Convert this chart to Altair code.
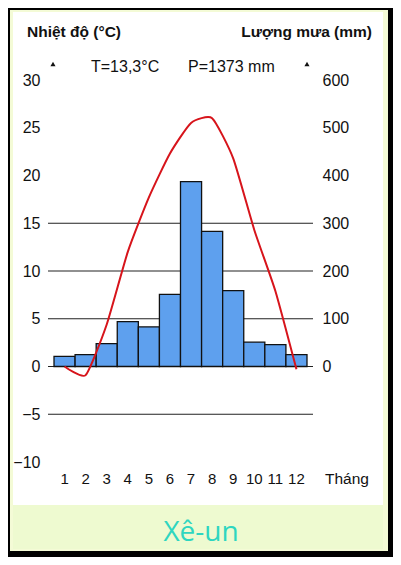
import altair as alt
import pandas as pd

months = list(range(1, 13))
rain = [21, 25, 48, 94, 83, 151, 387, 283, 159, 51, 46, 25]
temp = [0, -0.9, 4.4, 12, 17.7, 22.3, 25.5, 26, 21.8, 14.3, 7.9, -0.3]
temp_ticks = [-10, -5, 0, 5, 10, 15, 20, 25, 30]
rain_ticks = [0, 100, 200, 300, 400, 500, 600]
grid_vals = [-5, 0, 5, 10, 15]

W, H = 265, 382
FONT = "Liberation Sans"

df = pd.DataFrame({"month": months, "rain": rain, "temp": temp})
one = alt.Data(values=[{"k": 1}])

temp_scale = alt.Scale(domain=[-10, 30], nice=False, zero=False)
rain_scale = alt.Scale(domain=[-200, 600], nice=False, zero=False)
x_scale = alt.Scale(paddingInner=0, paddingOuter=0.285)


def rect(x, x2, y, y2, color):
    return alt.Chart(one).mark_rect(color=color).encode(
        x=alt.value(x), x2=alt.value(x2), y=alt.value(y), y2=alt.value(y2)
    )


pale = rect(-38, 340, -70, 471, "#f4fbd6")
white = rect(-35, 335, -68, 425, "#ffffff")
green = rect(-35, 335, 425, 469, "#eefad0")

grid = alt.Chart(pd.DataFrame({"v": grid_vals})).mark_rule(
    color="#222222", strokeWidth=1.2
).encode(
    y=alt.Y("v:Q", scale=temp_scale, axis=None),
    x=alt.value(0),
    x2=alt.value(W),
)

bars = alt.Chart(df).mark_bar(
    color="#5ea0ee", stroke="#111111", strokeWidth=1.3
).encode(
    x=alt.X(
        "month:O",
        scale=x_scale,
        axis=alt.Axis(
            title=None, labelAngle=0, labelFont=FONT, labelFontSize=15,
            labelColor="#111111", ticks=False, domain=False, labelPadding=9,
            zindex=2,
        ),
    ),
    y=alt.Y(
        "rain:Q",
        scale=rain_scale,
        axis=alt.Axis(
            orient="right", values=rain_ticks, title=None, grid=False,
            ticks=False, domain=False, labelFont=FONT, labelFontSize=16,
            labelColor="#111111", labelPadding=9, zindex=2,
        ),
    ),
    y2=alt.datum(0),
)

line = alt.Chart(df).mark_line(
    color="#d7141b", strokeWidth=2, interpolate="cardinal", tension=0.45
).encode(
    x=alt.X("month:O", scale=x_scale),
    y=alt.Y(
        "temp:Q",
        scale=temp_scale,
        axis=alt.Axis(
            orient="left", values=temp_ticks, title=None, grid=False,
            ticks=False, domain=False, labelFont=FONT, labelFontSize=16,
            labelColor="#111111", labelPadding=8, zindex=2,
        ),
    ),
)


def label(text, x, y, size=16, weight="normal", align="left", color="#111111", font=FONT):
    return alt.Chart(one).mark_text(
        text=text, fontSize=size, fontWeight=weight, align=align,
        baseline="middle", color=color, font=font,
    ).encode(x=alt.value(x), y=alt.value(y))


texts = [
    label("Nhiệt độ (°C)", -21, -48, weight="bold", size=15.5),
    label("Lượng mưa (mm)", 324, -48, weight="bold", size=15.5, align="right"),
    label("T=13,3°C", 43, -13),
    label("P=1373 mm", 140, -13),
    label("Tháng", 277, 399, size=15.5),
    label("Xê-un", 153, 453, size=28, align="center", color="#2ed6c0", font="Open Sans"),
]

arrows = alt.Chart(alt.Data(values=[{"p": 5}, {"p": 259}])).mark_point(
    shape="triangle-up", filled=True, color="#111111", size=26, opacity=1
).encode(x=alt.X("p:Q", scale=None), y=alt.value(-16))

chart = alt.layer(
    pale, white, green, grid, bars, line, *texts, arrows
).resolve_scale(y="independent").properties(
    width=W,
    height=H,
    autosize=alt.AutoSizeParams(type="none"),
    padding={"left": 40, "top": 72, "right": 80, "bottom": 95},
    background="#000000",
).configure_view(stroke=None)

chart.save("out.html", embed_options={"renderer": "svg", "actions": False})
